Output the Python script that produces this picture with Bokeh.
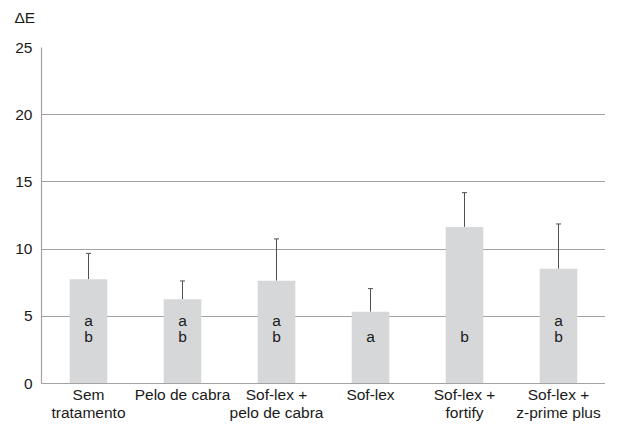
from bokeh.plotting import figure
from bokeh.models import ColumnDataSource, Whisker, TeeHead, FixedTicker, Title
from bokeh.core.properties import value
from bokeh.embed import file_html
from bokeh.resources import INLINE

categories = ["Sem\ntratamento", "Pelo de cabra", "Sof-lex +\npelo de cabra",
              "Sof-lex", "Sof-lex +\nfortify", "Sof-lex +\nz-prime plus"]
means = [7.75, 6.27, 7.65, 5.34, 11.65, 8.54]
upper = [9.68, 7.63, 10.76, 7.06, 14.2, 11.87]
letters_top = ["a", "a", "a", "", "", "a"]
letters_bottom = ["b", "b", "b", "a", "b", "b"]
y_ticks = [0, 5, 10, 15, 20, 25]

FONT = "Liberation Sans"
FS = "15.5px"
TXT = "#1a1a1a"

src = ColumnDataSource(dict(cat=categories, mean=means, upper=upper,
                            top_l=letters_top, bot_l=letters_bottom,
                            y_top=[4.71] * len(categories),
                            y_bot=[3.49] * len(categories)))

p = figure(x_range=categories, y_range=(0, 25), width=605, height=424,
           output_backend="svg", toolbar_location=None,
           min_border_left=32, min_border_right=0, min_border_top=39,
           min_border_bottom=36)

p.title.text = "\u0394E"
p.title.align = "left"
p.title.offset = -27
p.title.text_font = FONT
p.title.text_font_size = FS
p.title.text_font_style = "normal"
p.title.text_color = TXT
p.title.standoff = 12

# empty spacer above the title
p.add_layout(Title(text="\u00a0", text_font_size="12px", standoff=0), "above")

p.vbar(x="cat", top="mean", width=0.40, source=src, fill_color="#d6d7d9",
       line_color=None)

w = Whisker(base="cat", upper="upper", lower="mean", source=src,
            line_color="#505050", line_width=1,
            upper_head=TeeHead(size=5, line_color="#505050", line_width=1),
            lower_head=None)
p.add_layout(w)

p.text(x="cat", y="y_top", text="top_l", source=src, text_align="center",
       text_baseline="middle", text_font=value(FONT), text_font_size=FS,
       text_color=TXT)
p.text(x="cat", y="y_bot", text="bot_l", source=src, text_align="center",
       text_baseline="middle", text_font=value(FONT), text_font_size=FS,
       text_color=TXT)

p.outline_line_color = None
p.xgrid.grid_line_color = None
p.ygrid.grid_line_color = "#a3a3a3"
p.ygrid.grid_line_width = 1.2
p.yaxis.ticker = FixedTicker(ticks=y_ticks)
p.ygrid.ticker = FixedTicker(ticks=y_ticks)

for ax in (p.xaxis, p.yaxis):
    ax.axis_line_color = "#a3a3a3"
    ax.axis_line_width = 1.2
    ax.major_tick_line_color = None
    ax.minor_tick_line_color = None
    ax.major_tick_out = 0
    ax.major_tick_in = 0
    ax.minor_tick_out = 0
    ax.minor_tick_in = 0
    ax.major_label_text_font = FONT
    ax.major_label_text_font_size = FS
    ax.major_label_text_color = TXT

# spacer label on the left axis to widen the left margin
p.yaxis.axis_label = "\u00a0"
p.yaxis.axis_label_text_font_size = "8px"
p.yaxis.axis_label_standoff = 0
p.yaxis.major_label_standoff = 9

p.xaxis.major_label_standoff = 2
p.xaxis.major_label_text_line_height = 1.1
p.x_range.range_padding = 0
p.background_fill_color = "white"

open("out.html", "w").write(file_html(p, INLINE))
